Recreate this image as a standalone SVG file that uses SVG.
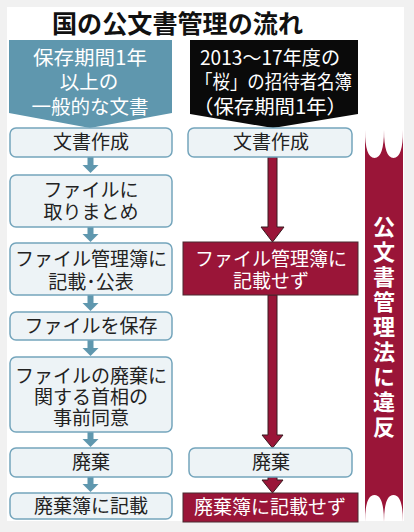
<svg xmlns="http://www.w3.org/2000/svg" width="414" height="532" viewBox="0 0 414 532">
<defs>
<style>
text{font-family:"Noto Sans CJK JP","Noto Sans CJK SC",sans-serif;}
.t{font-size:19px;fill:#222;text-anchor:middle;}
.w{font-size:19px;fill:#fff;text-anchor:middle;}
.h{font-size:19.5px;fill:#fff;text-anchor:middle;}
.box{fill:#edf3f6;stroke:#74a5bc;stroke-width:1.5;}
.red{fill:#9a1538;stroke:#4a2a30;stroke-width:1;}
.ta{fill:#5f97ae;}
.ra{fill:#9a1538;stroke:#3a1a20;stroke-width:1;}
</style>
</defs>
<rect x="0" y="0" width="414" height="532" fill="#f1f1f1"/>
<rect x="7" y="7" width="397" height="514" fill="#fff"/>
<text x="52" y="33" font-size="25" font-weight="700" fill="#111" textLength="251" lengthAdjust="spacingAndGlyphs">国の公文書管理の流れ</text>

<g id="header-left">
<path d="M9,40 H172 V113 L90,128 L9,113 Z" fill="#5f97ae"/>
<text class="h"><tspan x="90" y="65" textLength="114" lengthAdjust="spacingAndGlyphs">保存期間1年</tspan><tspan x="89" y="89">以上の</tspan><tspan x="90" y="114">一般的な文書</tspan></text>
</g>
<g id="header-right">
<path d="M190,40 H358 V114 L273,128 L190,114 Z" fill="#0a0a0a"/>
<text class="h"><tspan x="270" y="65" textLength="140" lengthAdjust="spacingAndGlyphs">2013～17年度の</tspan><tspan x="273.5" y="89" textLength="157" lengthAdjust="spacingAndGlyphs">「桜」の招待者名簿</tspan><tspan x="270" y="114" textLength="154" lengthAdjust="spacingAndGlyphs">（保存期間1年）</tspan></text>
</g>

<g id="connectors">
<path class="ta" d="M87.5,157 H93.5 V165 H98.5 L90.5,173 L82.5,165 H87.5 Z"/>
<path class="ta" d="M87.5,227 H93.5 V234 H98.5 L90.5,242 L82.5,234 H87.5 Z"/>
<path class="ta" d="M87.5,295 H93.5 V303 H98.5 L90.5,311 L82.5,303 H87.5 Z"/>
<path class="ta" d="M87.5,340 H93.5 V348 H98.5 L90.5,356 L82.5,348 H87.5 Z"/>
<path class="ta" d="M87.5,432 H93.5 V439 H98.5 L90.5,447 L82.5,439 H87.5 Z"/>
<path class="ta" d="M87.5,477 H93.5 V484 H98.5 L90.5,492 L82.5,484 H87.5 Z"/>
<path class="ra" d="M268,157 H277 V227 H284 L272.5,242 L261,227 H268 Z"/>
<path class="ra" d="M268,295 H277 V435 H283 L272.5,448 L262,435 H268 Z"/>
<path class="ra" d="M268,477 H277 V480 H283 L272.5,493 L262,480 H268 Z"/>
</g>

<g id="l1"><rect class="box" x="10" y="128" width="162" height="29" rx="6"/><text class="t" x="91" y="149">文書作成</text></g>
<g id="l2"><rect class="box" x="10" y="175" width="162" height="52" rx="6"/><text class="t"><tspan x="91" y="197">ファイルに</tspan><tspan x="91" y="219">取りまとめ</tspan></text></g>
<g id="l3"><rect class="box" x="10" y="243" width="162" height="52" rx="6"/><text class="t"><tspan x="91" y="266">ファイル管理簿に</tspan><tspan x="91" y="289">記載･公表</tspan></text></g>
<g id="l4"><rect class="box" x="10" y="312" width="162" height="28" rx="6"/><text class="t" x="91" y="333">ファイルを保存</text></g>
<g id="l5"><rect class="box" x="10" y="357" width="162" height="75" rx="6"/><text class="t"><tspan x="91" y="383">ファイルの廃棄に</tspan><tspan x="91" y="404">関する首相の</tspan><tspan x="91" y="425">事前同意</tspan></text></g>
<g id="l6"><rect class="box" x="10" y="448" width="162" height="29" rx="6"/><text class="t" x="91" y="469">廃棄</text></g>
<g id="l7"><rect class="box" x="10" y="493" width="162" height="26" rx="6"/><text class="t" x="91" y="513">廃棄簿に記載</text></g>

<g id="r1"><rect class="box" x="188" y="128" width="164" height="29" rx="6"/><text class="t" x="271" y="149">文書作成</text></g>
<g id="r2"><rect class="red" x="183" y="242" width="175" height="53"/><text class="w"><tspan x="271" y="266">ファイル管理簿に</tspan><tspan x="271" y="288">記載せず</tspan></text></g>
<g id="r3"><rect class="box" x="189" y="448" width="163" height="29" rx="6"/><text class="t" x="271" y="469">廃棄</text></g>
<g id="r4"><rect class="red" x="183" y="493" width="175" height="29"/><text class="w" x="270" y="514">廃棄簿に記載せず</text></g>

<g id="banner">
<path d="M365,130 Q365,158 374.5,158 Q384,158 384,130 Q384,158 393.5,158 Q403,158 403,130 L403,522 Q403,495 393.5,495 Q384,495 384,522 Q384,495 374.5,495 Q365,495 365,522 Z" fill="#9a1538"/>
<text x="384" y="216" font-size="22" font-weight="700" fill="#fff" writing-mode="vertical-rl" letter-spacing="2.9">公文書管理法に違反</text>
</g>
</svg>
